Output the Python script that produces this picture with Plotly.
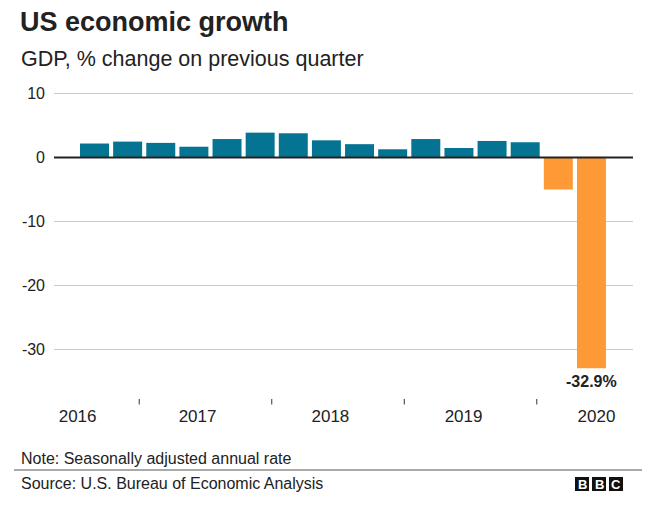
import plotly.graph_objects as go

# ---- data ----
quarters = ["2016 Q3", "2016 Q4",
            "2017 Q1", "2017 Q2", "2017 Q3", "2017 Q4",
            "2018 Q1", "2018 Q2", "2018 Q3", "2018 Q4",
            "2019 Q1", "2019 Q2", "2019 Q3", "2019 Q4",
            "2020 Q1", "2020 Q2"]
growth = [2.2, 2.5, 2.3, 1.7, 2.9, 3.9, 3.8, 2.7, 2.1, 1.3,
          2.9, 1.5, 2.6, 2.4, -5.0, -32.9]
years = ["2016", "2017", "2018", "2019", "2020"]
y_ticks = [10, 0, -10, -20, -30]
highlight_label = "-32.9%"

# ---- styling ----
BLUE = "#047492"
ORANGE = "#FE9A35"
TEXT = "#222222"
FONT = "Liberation Sans, Arial, Helvetica, sans-serif"

OFF = 8  # page body margin
W, H = 660 - OFF, 506 - OFF
L, R, T, B = 54 - OFF, 27, 84 - OFF, 102
plot_w = W - L - R
plot_h = H - T - B


def py(p):
    """window pixel y -> paper y"""
    return (H - B - (p - OFF)) / plot_h


def px(p):
    """window pixel x -> paper x"""
    return ((p - OFF) - L) / plot_w


xpos = list(range(len(quarters)))
colors = [BLUE if v >= 0 else ORANGE for v in growth]

fig = go.Figure()
fig.add_trace(go.Bar(
    x=xpos, y=growth, customdata=quarters,
    marker=dict(color=colors, line=dict(width=0)),
    width=0.875,
    hovertemplate="%{customdata}: %{y}%<extra></extra>",
))

fig.update_layout(
    width=W, height=H,
    margin=dict(l=L, r=R, t=T, b=B),
    paper_bgcolor="white", plot_bgcolor="white",
    showlegend=False,
    font=dict(family=FONT, color=TEXT),
    xaxis=dict(
        range=[-1.2225, 16.254],
        showgrid=False, zeroline=False, showline=False,
        tickvals=[-0.51, 3.11, 7.12, 11.14, 15.15],
        ticktext=years,
        ticks="", tickfont=dict(size=17, color=TEXT),
        ticklabelstandoff=0,
    ),
    yaxis=dict(
        range=[-38.5, 11.5],
        tickvals=y_ticks,
        ticktext=[str(v) for v in y_ticks],
        showgrid=True, gridcolor="#cccccc", gridwidth=1,
        zeroline=False, showline=False,
        ticks="", tickfont=dict(size=16, color=TEXT),
        ticklabelstandoff=8,
    ),
)

# zero line on top of bars
fig.add_shape(type="line", xref="paper", yref="y", x0=0, x1=1, y0=0, y1=0,
              line=dict(color="#222222", width=2), layer="above")

# year separator tick marks
for xv in [1.35, 5.35, 9.35, 13.35]:
    fig.add_shape(type="line", xref="x", yref="paper", x0=xv, x1=xv,
                  y0=py(399), y1=py(404.5),
                  line=dict(color="#333333", width=1))

# value label under the last bar
fig.add_annotation(x=xpos[-1], y=growth[-1], xref="x", yref="y",
                   text="<b>%s</b>" % highlight_label, showarrow=False,
                   yanchor="top", yshift=-3,
                   font=dict(size=16, color=TEXT, family=FONT))

# title and subtitle
fig.add_annotation(xref="paper", yref="paper", x=px(19), y=py(22),
                   xanchor="left", yanchor="middle", showarrow=False,
                   borderpad=0,
                   text="<b>US economic growth</b>",
                   font=dict(size=27, color=TEXT, family=FONT))
fig.add_annotation(xref="paper", yref="paper", x=px(19), y=py(59),
                   xanchor="left", yanchor="middle", showarrow=False,
                   text="GDP, % change on previous quarter",
                   font=dict(size=21.5, color=TEXT, family=FONT))

# footer
fig.add_annotation(xref="paper", yref="paper", x=px(19), y=py(458),
                   xanchor="left", yanchor="middle", showarrow=False,
                   text="Note: Seasonally adjusted annual rate",
                   font=dict(size=16, color=TEXT, family=FONT))
fig.add_shape(type="line", xref="paper", yref="paper",
              x0=px(14), x1=px(642), y0=py(470), y1=py(470),
              line=dict(color="#555555", width=1))
fig.add_annotation(xref="paper", yref="paper", x=px(19), y=py(483),
                   xanchor="left", yanchor="middle", showarrow=False,
                   text="Source: U.S. Bureau of Economic Analysis",
                   font=dict(size=16, color=TEXT, family=FONT))

# BBC logo blocks
for i, letter in enumerate(["B", "B", "C"]):
    x0 = 575 + i * 17
    fig.add_shape(type="rect", xref="paper", yref="paper",
                  x0=px(x0), x1=px(x0 + 14), y0=py(477), y1=py(491),
                  fillcolor="#111111", line=dict(width=0))
    fig.add_annotation(xref="paper", yref="paper", x=px(x0 + 7), y=py(484),
                       xanchor="center", yanchor="middle", showarrow=False,
                       text="<b>%s</b>" % letter,
                       font=dict(size=13, color="white", family=FONT))

fig.write_html("out.html")
